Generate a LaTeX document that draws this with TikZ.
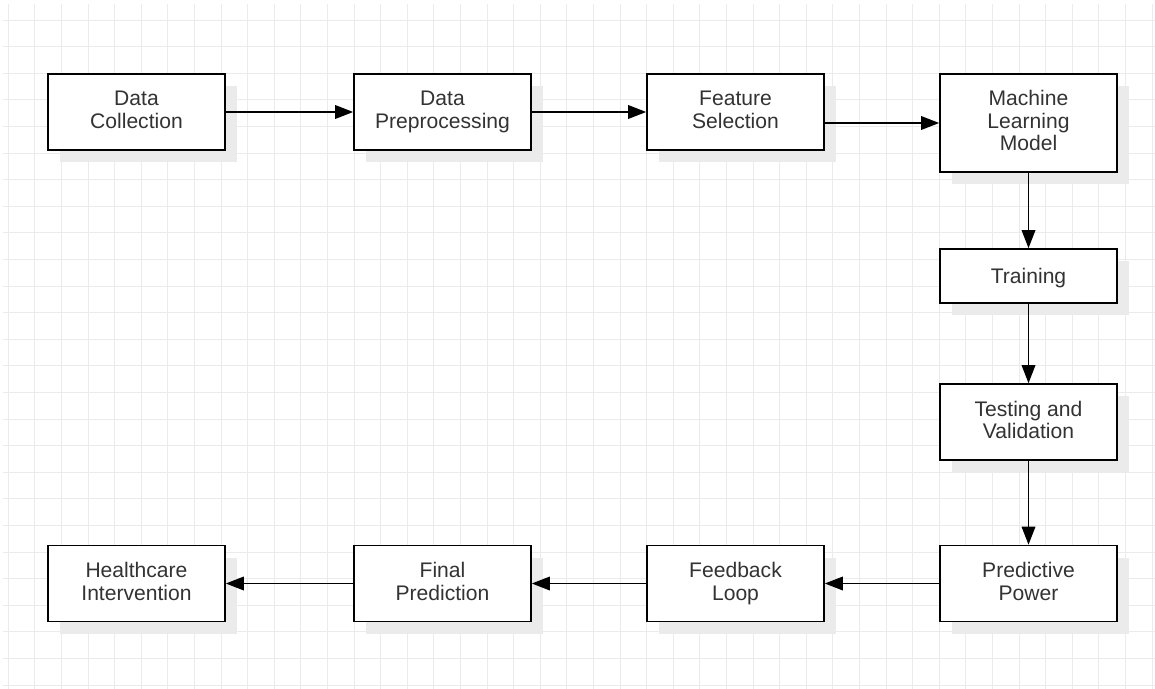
\documentclass[tikz,border=0pt]{standalone}
\usepackage{fontspec}
\setmainfont{Liberation Sans}
\usepackage{xcolor}
\usetikzlibrary{arrows.meta, positioning, shadows}

\definecolor{gridgray}{HTML}{EBEBEB}
\definecolor{shadowgray}{HTML}{EBEBEB}
\definecolor{textgray}{HTML}{333333}

\begin{document}
\begin{tikzpicture}[
    box/.style={draw, line width=0.9pt, fill=white, minimum width=3.54cm, minimum height=#1,
        align=center, text=textgray, font=\fontsize{12}{12.8}\selectfont,
        execute at begin node=\rule{0pt}{10.9pt}, execute at end node=\rule[-2.5pt]{0pt}{2.5pt},
        drop shadow={shadow xshift=0.24cm, shadow yshift=-0.24cm, fill=shadowgray, opacity=1}},
    box/.default=1.52cm,
    arr/.style={-{Triangle[length=3.6mm, width=2.7mm]}, line width=1pt},
    >=Triangle
]
% page and grid
\fill[white] (0,0) rectangle (23.1,13.76);
\useasboundingbox (0,0) rectangle (23.1,13.76);
\begin{scope}
\clip (0.06,0) rectangle (23.1,13.66);
\draw[gridgray, line width=0.5pt, step=0.532cm, shift={(0.166,0.06)}] (-0.6,-0.6) grid (23.5,14.2);
\end{scope}

% Data collection
\node[box] (dc) at (2.73, 11.52) {Data\\Collection};

% Preprocessing
\node[box] (dp) at (8.85, 11.52) {Data\\Preprocessing};
\draw[arr] (dc) -- (dp);

% Feature selection
\node[box] (fs) at (14.71, 11.52) {Feature\\Selection};
\draw[arr] (dp) -- (fs);

% Model
\node[box=1.96cm] (ml) at (20.57, 11.30) {Machine\\Learning\\Model};
\draw[arr] (fs.east |- ml.west) -- (ml.west);

% Training
\node[box=1.08cm] (tr) at (20.57, 8.24) {Training};
\draw[arr] (ml) -- (tr);

% Testing
\node[box] (tv) at (20.57, 5.32) {Testing and\\Validation};
\draw[arr] (tr) -- (tv);

% Predictive power
\node[box] (pp) at (20.57, 2.09) {Predictive\\Power};
\draw[arr] (tv) -- (pp);

% Feedback
\node[box] (fl) at (14.71, 2.09) {Feedback\\Loop};
\draw[arr] (pp) -- (fl);

% Final prediction
\node[box] (fp) at (8.85, 2.09) {Final\\Prediction};
\draw[arr] (fl) -- (fp);

% Intervention
\node[box] (hi) at (2.73, 2.09) {Healthcare\\Intervention};
\draw[arr] (fp) -- (hi);

\end{tikzpicture}
\end{document}
